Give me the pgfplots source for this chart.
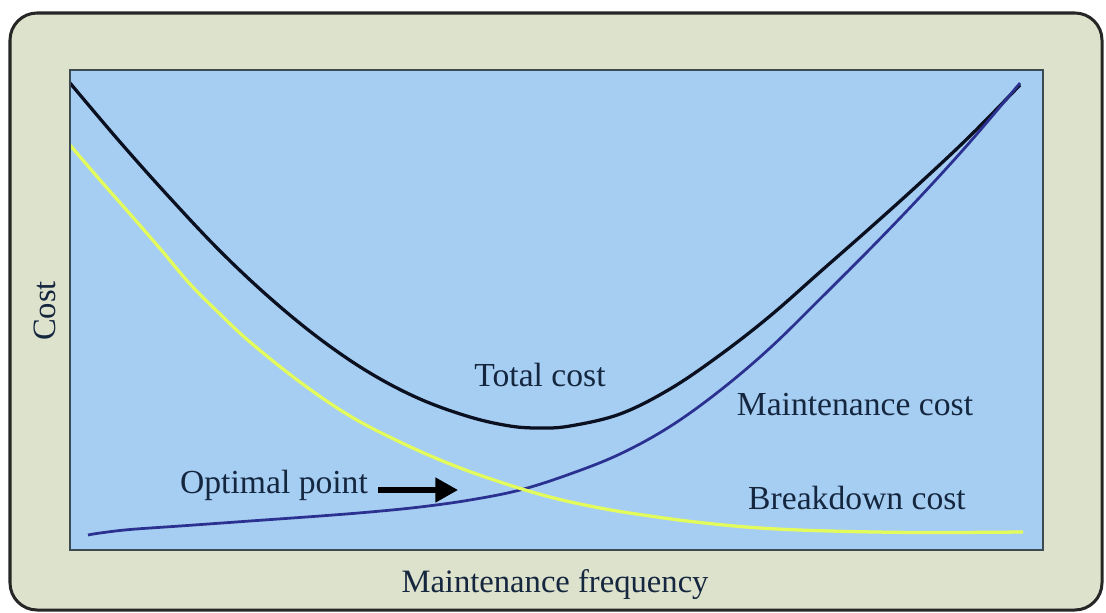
\documentclass[border=0pt]{standalone}
\usepackage{pgfplots}
\pgfplotsset{compat=1.18}
\usepackage{fontspec}
\setmainfont{Liberation Serif}
\usetikzlibrary{arrows.meta}
\definecolor{outerfill}{HTML}{DDE2CC}
\definecolor{plotfill}{HTML}{A6CEF2}
\definecolor{plotborder}{HTML}{3C4B52}
\definecolor{totalc}{HTML}{0B1020}
\definecolor{maintc}{HTML}{2B3190}
\definecolor{breakc}{HTML}{E4FB5C}
\definecolor{txt}{HTML}{15263F}
\begin{document}
\begin{tikzpicture}
\begin{axis}[
  x=0.014cm, y=0.014cm,
  xmin=0, xmax=1106, ymin=0, ymax=612,
  hide axis, clip=false,
]
% bounding area
\path (axis cs:0,0) rectangle (axis cs:1106,612);
% outer frame
\draw[line width=1.2pt, draw=black!85, fill=outerfill, rounded corners=0.38cm]
  (axis cs:10,2) rectangle (axis cs:1102,599);
% plot area
\fill[plotfill] (axis cs:70,62) rectangle (axis cs:1043,542);

% Total cost
\addplot[color=totalc, line width=1.3pt, smooth, tension=0.6] coordinates {
(70,529) (120,470) (170,414) (220,361) (270,314) (320,273) (370,239)
(420,213) (470,195) (510,186) (540,184) (570,186) (620,198) (670,223)
(720,257) (770,296) (820,340) (870,384) (920,429) (970,476) (1020,527)
};
% Maintenance cost
\addplot[color=maintc, line width=1.1pt, smooth, tension=0.6] coordinates {
(88,77) (100,79) (130,82.5) (180,86) (250,91) (320,96) (370,100)
(420,105) (470,112) (520,122) (570,138) (620,158) (670,185.5)
(720,221.5) (770,264) (820,313) (870,363) (920,415) (970,470) (1020,529)
};
% Breakdown cost
\addplot[color=breakc, line width=1.3pt, smooth, tension=0.6] coordinates {
(70,467) (100,432) (130,398) (160,363.5) (190,328) (220,298) (250,270)
(300,230) (350,196) (400,170) (450,148) (500,130) (550,115) (600,104)
(650,96) (700,89.5) (760,84) (830,81) (920,79.5) (1023,80)
};

% plot border
\draw[plotborder, line width=1.1pt] (axis cs:70,62) rectangle (axis cs:1043,542);

% labels
\node[txt, font=\fontsize{13.4}{16}\selectfont] at (axis cs:540,237) {Total cost};
\node[txt, font=\fontsize{13.4}{16}\selectfont] at (axis cs:855,207) {Maintenance cost};
\node[txt, font=\fontsize{13.4}{16}\selectfont] at (axis cs:857,114) {Breakdown cost};
\node[txt, font=\fontsize{13.4}{16}\selectfont] at (axis cs:274,127) {Optimal point};
\draw[black, line width=2pt, -{Triangle[length=9pt,width=9.5pt]}]
  (axis cs:378,122) -- (axis cs:458,122);
\node[txt, font=\fontsize{13}{16}\selectfont, rotate=90] at (axis cs:45,301) {Cost};
\node[txt, font=\fontsize{13}{16}\selectfont] at (axis cs:555,27) {Maintenance frequency};
\end{axis}
\end{tikzpicture}
\end{document}
